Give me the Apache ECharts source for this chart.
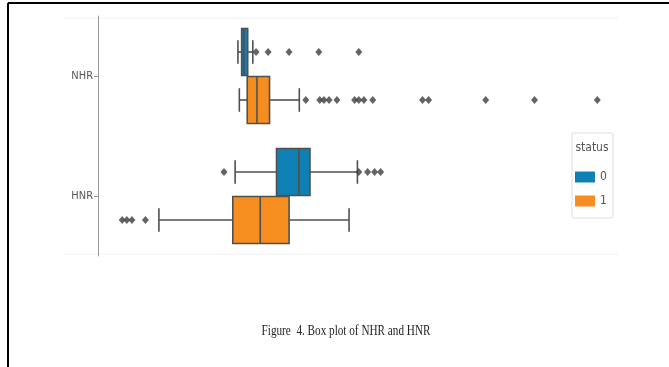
<!DOCTYPE html>
<html>
<head>
<meta charset="utf-8">
<script src="https://cdn.jsdelivr.net/npm/echarts@6/dist/echarts.min.js"></script>
<style>
html,body{margin:0;padding:0;background:#fff;}
#chart{width:669px;height:367px;}
</style>
</head>
<body>
<div id="chart"></div>
<script>
// Categories (y axis, top to bottom)
const categories = ['NHR', 'HNR'];
const statusNames = ['0', '1'];
// Box stats per category: [min, Q1, median, Q3, max] (standardized units)
const status0Box = [
  [-0.54, -0.46, -0.41, -0.33, -0.22],
  [-0.60, 0.29, 0.77, 1.01, 2.03]
];
const status1Box = [
  [-0.51, -0.34, -0.13, 0.14, 0.78],
  [-2.24, -0.65, -0.06, 0.56, 1.85]
];
// Outliers
const status0NHROutliers = [-0.15, 0.11, 0.56, 1.20, 2.06];
const status0HNROutliers = [-0.84, 2.06, 2.25, 2.40, 2.53];
const status1NHROutliers = [0.92, 1.22, 1.31, 1.42, 1.59, 1.97, 2.06, 2.17, 2.36, 3.43, 3.56, 4.79, 5.84, 7.19];
const status1HNROutliers = [-3.03, -2.93, -2.82, -2.53];

const colors = ['#0f80b4', '#f68d1f'];
const lineColor = '#505050';

function boxData(arr) {
  return arr.map((b, i) => [i].concat(b));
}
function outlierData(nhr, hnr) {
  return nhr.map(v => [v, 0]).concat(hnr.map(v => [v, 1]));
}

function makeRender(sign, color) {
  return function (params, api) {
    const cat = api.value(0);
    const lo = api.value(1), q1 = api.value(2), md = api.value(3), q3 = api.value(4), hi = api.value(5);
    const band = api.size([0, 1])[1];
    const c = api.coord([0, cat])[1] + sign * 0.2 * band;
    const h = 0.392 * band;
    const X = v => api.coord([v, cat])[0];
    const ls = { stroke: lineColor, lineWidth: 1.6 };
    return {
      type: 'group',
      children: [
        { type: 'line', shape: { x1: X(lo), y1: c, x2: X(q1), y2: c }, style: ls },
        { type: 'line', shape: { x1: X(q3), y1: c, x2: X(hi), y2: c }, style: ls },
        { type: 'line', shape: { x1: X(lo), y1: c - h / 4, x2: X(lo), y2: c + h / 4 }, style: ls },
        { type: 'line', shape: { x1: X(hi), y1: c - h / 4, x2: X(hi), y2: c + h / 4 }, style: ls },
        { type: 'rect', shape: { x: X(q1), y: c - h / 2, width: X(q3) - X(q1), height: h },
          style: { fill: color, stroke: lineColor, lineWidth: 1.6 } },
        { type: 'line', shape: { x1: X(md), y1: c - h / 2, x2: X(md), y2: c + h / 2 }, style: ls }
      ]
    };
  };
}

const chart = echarts.init(document.getElementById('chart'), null, { renderer: 'canvas' });
const option = {
  backgroundColor: '#ffffff',
  animation: false,
  grid: { left: 98, right: 48, top: 16, bottom: 111 },
  xAxis: {
    type: 'value', min: -3.55, max: 7.70,
    show: false
  },
  yAxis: {
    type: 'category', data: categories, inverse: true,
    axisLine: { show: true, onZero: false, lineStyle: { color: '#999', width: 1 } },
    axisTick: { show: true, alignWithLabel: true, length: 4, lineStyle: { color: '#999' } },
    axisLabel: { color: '#555', fontSize: 11, fontFamily: '"DejaVu Sans Condensed", "DejaVu Sans", sans-serif', margin: 5 },
    splitLine: { show: false }
  },
  legend: {
    orient: 'vertical', left: 570, top: 166, itemGap: 12,
    itemWidth: 20, itemHeight: 11,
    icon: 'rect',
    data: statusNames,
    textStyle: { color: '#555', fontSize: 12, fontFamily: '"DejaVu Sans Condensed", "DejaVu Sans", sans-serif' }
  },
  series: [
    { name: statusNames[0], type: 'custom', renderItem: makeRender(-1, colors[0]),
      itemStyle: { color: colors[0] },
      encode: { x: [1, 2, 3, 4, 5], y: 0 }, data: boxData(status0Box), z: 2 },
    { name: statusNames[1], type: 'custom', renderItem: makeRender(1, colors[1]),
      itemStyle: { color: colors[1] },
      encode: { x: [1, 2, 3, 4, 5], y: 0 }, data: boxData(status1Box), z: 2 },
    { name: 'out0', type: 'scatter', symbol: 'diamond', symbolSize: [7, 8], symbolOffset: [0, -24],
      itemStyle: { color: '#3d3d3d' }, data: outlierData(status0NHROutliers, status0HNROutliers), z: 3 },
    { name: 'out1', type: 'scatter', symbol: 'diamond', symbolSize: [7, 8], symbolOffset: [0, 24],
      itemStyle: { color: '#3d3d3d' }, data: outlierData(status1NHROutliers, status1HNROutliers), z: 3 }
  ],
  graphic: [
    { type: 'line', shape: { x1: 8, y1: 3, x2: 669, y2: 3 }, style: { stroke: '#000', lineWidth: 2 } },
    { type: 'line', shape: { x1: 8, y1: 3, x2: 8, y2: 367 }, style: { stroke: '#000', lineWidth: 2 } },
    { type: 'line', shape: { x1: 64, y1: 18, x2: 618, y2: 18 }, style: { stroke: '#f2f2f2', lineWidth: 1 } },
    { type: 'line', shape: { x1: 64, y1: 254, x2: 618, y2: 254 }, style: { stroke: '#f2f2f2', lineWidth: 1 } },
    { type: 'rect', shape: { x: 572, y: 133, width: 41, height: 85, r: 2 },
      style: { fill: 'rgba(255,255,255,0.9)', stroke: '#dddddd', lineWidth: 1 }, z: -1 },
    { type: 'text', x: 592, y: 148,
      style: { text: 'status', fill: '#555', font: '12px "DejaVu Sans Condensed", "DejaVu Sans", sans-serif',
        textAlign: 'center', textVerticalAlign: 'middle' } },
    { type: 'text', x: 346, y: 331, scaleX: 0.8,
      style: { text: 'Figure  4. Box plot of NHR and HNR', fill: '#222', font: '14px "Liberation Serif", serif',
        textAlign: 'center', textVerticalAlign: 'middle' } }
  ]
};
chart.setOption(option);
</script>
</body>
</html>
